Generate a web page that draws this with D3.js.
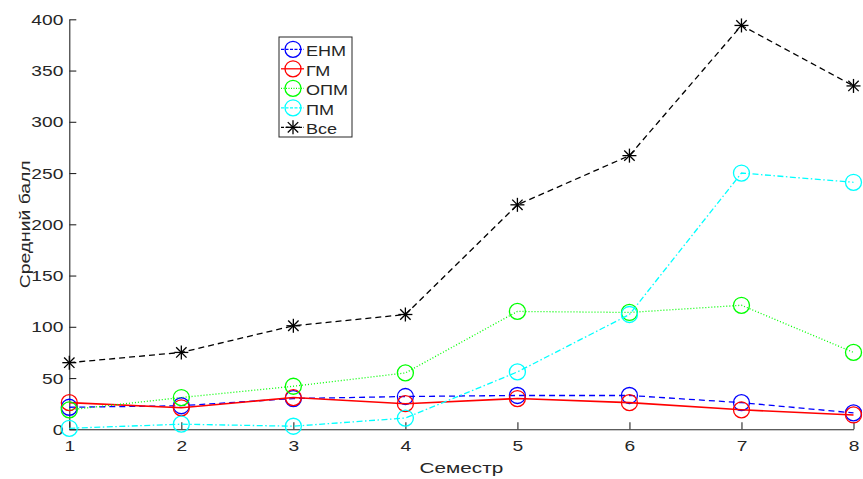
<!DOCTYPE html>
<html>
<head>
<meta charset="utf-8">
<script src="https://cdn.jsdelivr.net/npm/d3@7/dist/d3.min.js"></script>
<style>
  html, body { margin: 0; padding: 0; background: #fff; }
  svg { display: block; }
  text { font-family: "Liberation Sans", Arial, Helvetica, sans-serif; fill: #262626; font-size: 14px; }
</style>
</head>
<body>
<svg id="chart" width="863" height="479"></svg>
<script>
// Semesters and mean scores per group
const semesters = [1, 2, 3, 4, 5, 6, 7, 8];
const enm = [21.5, 23, 30, 32, 33, 33, 26, 16];
const gm  = [26, 21, 31, 25, 30, 26, 19, 14];
const opm = [19, 31, 42, 55, 115, 114, 121, 75];
const pm  = [1, 5, 3, 11, 56, 112, 250, 241];
const all = [65, 75, 101, 112, 219, 267, 394, 335];

const xTicks = [1, 2, 3, 4, 5, 6, 7, 8];
const yTicks = [0, 50, 100, 150, 200, 250, 300, 350, 400];

const seriesNames = ["ЕНМ", "ГМ", "ОПМ", "ПМ", "Все"];
const seriesColors = ["#0000ff", "#ff0000", "#00ff00", "#00ffff", "#000000"];
const seriesDash = ["6,4", null, "1,2", "6,2.5,1.5,2.5", "6,4"];
const seriesMarker = ["circle", "circle", "circle", "circle", "asterisk"];
const seriesValues = [enm, gm, opm, pm, all];

const series = seriesNames.map((name, i) => ({
  name, color: seriesColors[i], dash: seriesDash[i], marker: seriesMarker[i],
  values: seriesValues[i]
}));

const svg = d3.select("#chart");
const plotLeft = 69.3, plotRight = 853.5, plotTop = 19.3, plotBottom = 429.3;

const x = d3.scaleLinear().domain([1, 8]).range([plotLeft, plotRight]);
const y = d3.scaleLinear().domain([0, 400]).range([plotBottom, plotTop]);

// Widen glyphs horizontally around each text's anchor point
function stretch(sel, sx) {
  sel.each(function () {
    const t = d3.select(this);
    const tx = +t.attr("x") || 0, ty = +t.attr("y") || 0;
    t.attr("x", 0).attr("y", 0)
      .attr("transform", `translate(${tx},${ty}) scale(${sx},1)`);
  });
}

// Axes: ticks drawn inward, no box
const axisColor = "#262626";
const yAxis = svg.append("g").attr("transform", `translate(${plotLeft},0)`)
  .call(d3.axisLeft(y).tickValues(yTicks).tickFormat(d3.format("d"))
    .tickSize(-7).tickPadding(6).tickSizeOuter(0));
const xAxis = svg.append("g").attr("transform", `translate(0,${plotBottom})`)
  .call(d3.axisBottom(x).tickValues(xTicks).tickFormat(d3.format("d"))
    .tickSize(-7).tickPadding(11.5).tickSizeOuter(0));

[xAxis, yAxis].forEach(g => {
  g.select(".domain").attr("stroke", axisColor).attr("stroke-width", 1.1);
  g.selectAll(".tick line").attr("stroke", axisColor).attr("stroke-width", 1.1);
  g.selectAll(".tick text").attr("fill", axisColor)
    .style("font-size", "14px").style("font-family", "'Liberation Sans', Arial, sans-serif");
  stretch(g.selectAll(".tick text"), 1.37);
});
yAxis.selectAll(".tick text").attr("dy", "0.36em");

// Axis titles
const xTitle = svg.append("text")
  .attr("x", (plotLeft + plotRight) / 2).attr("y", 472.7)
  .attr("text-anchor", "middle")
  .text("Семестр");
stretch(xTitle, 1.48);

const yTitle = svg.append("text")
  .attr("text-anchor", "middle")
  .attr("transform", `translate(30,${(plotTop + plotBottom) / 2}) rotate(-90) scale(1.38,1)`)
  .text("Средний балл");

const line = d3.line().x((d, i) => x(semesters[i])).y(d => y(d));

function drawMarker(g, type, cx, cy, color) {
  if (type === "circle") {
    g.append("circle").attr("cx", cx).attr("cy", cy).attr("r", 8)
      .attr("fill", "none").attr("stroke", color).attr("stroke-width", 1.3);
  } else {
    const r = 7, d = 5.2;
    const segs = [[-r, 0, r, 0], [0, -r, 0, r], [-d, -d, d, d], [-d, d, d, -d]];
    segs.forEach(s => g.append("line")
      .attr("x1", cx + s[0]).attr("y1", cy + s[1]).attr("x2", cx + s[2]).attr("y2", cy + s[3])
      .attr("stroke", color).attr("stroke-width", 1.3));
  }
}

// Lines and markers
series.forEach(s => {
  const g = svg.append("g");
  g.append("path").datum(s.values)
    .attr("d", line).attr("fill", "none")
    .attr("stroke", s.color).attr("stroke-width", s.dash ? 1.3 : 1.6)
    .attr("stroke-dasharray", s.dash);
  s.values.forEach((v, i) => drawMarker(g, s.marker, x(semesters[i]), y(v), s.color));
});

// Legend
const lg = svg.append("g");
lg.append("rect").attr("x", 279).attr("y", 37).attr("width", 73).attr("height", 100)
  .attr("fill", "#fff").attr("stroke", axisColor).attr("stroke-width", 1);
series.forEach((s, i) => {
  const cy = 49.3 + i * 19.5;
  lg.append("line").attr("x1", 281).attr("x2", 304).attr("y1", cy).attr("y2", cy)
    .attr("stroke", s.color).attr("stroke-width", 1.3)
    .attr("stroke-dasharray", s.dash ? (s.dash === "1,2" ? "1,1.5" : "3,1.5") : null);
  drawMarker(lg, s.marker, 293, cy, s.color);
  const t = lg.append("text").attr("x", 306).attr("y", cy + 7).text(s.name);
  stretch(t, 1.29);
});
</script>
</body>
</html>
